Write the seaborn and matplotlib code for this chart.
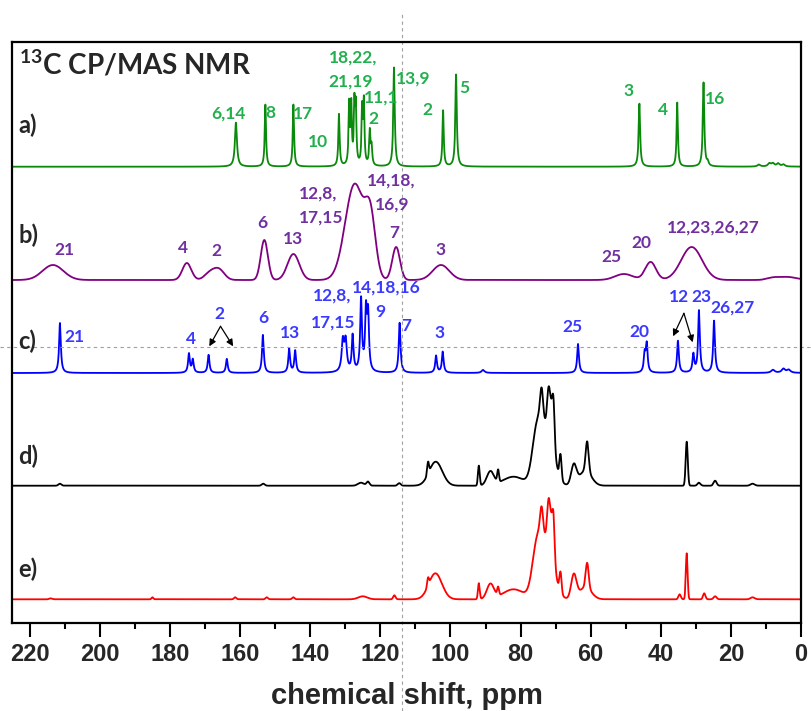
import numpy as np
import pandas as pd
import matplotlib
matplotlib.use("Agg")
import matplotlib.pyplot as plt
from matplotlib.ticker import MultipleLocator
import seaborn as sns

# ---------------- data ----------------
# each spectrum: peak positions (ppm), peak heights (relative), half widths (ppm)
a_pos = [161.2, 152.8, 144.8, 131.8, 128.9, 128.3, 127.4, 127.0, 125.2, 124.7, 123.0, 122.5,
         116.1, 102.1, 98.4, 46.1, 35.3, 27.8, 26.6, 12.0, 9.0, 8.0, 6.5, 5.0]
a_h = [44, 62, 62, 52, 60, 58, 58, 55, 55, 62, 34, 18,
       99, 56, 92, 63, 64, 84, 4, 2, 3, 3, 3, 2]
a_w = [0.35, 0.22, 0.22, 0.22, 0.2, 0.2, 0.2, 0.2, 0.2, 0.2, 0.22, 0.22,
       0.25, 0.22, 0.25, 0.25, 0.22, 0.25, 0.3, 0.5, 0.5, 0.5, 0.5, 0.5]

b_pos = [213.4, 175.2, 168.6, 166.0, 153.1, 144.8, 127.3, 122.8, 115.5, 102.7,
         50.5, 42.9, 31.2, 8.0, 3.8]
b_h = [15, 17, 7, 10, 40, 26, 96, 53, 33, 15,
       6, 18, 33, 2, 3]
b_w = [3.5, 1.5, 1.8, 1.8, 1.2, 2.0, 3.2, 1.7, 1.3, 2.8,
       3.0, 1.8, 3.5, 2.0, 3.0]

c_pos = [211.4, 174.6, 173.5, 169.0, 163.8, 153.5, 146.0, 144.3, 130.7, 129.9,
         127.9, 125.5, 124.1, 123.5, 114.5, 104.1, 102.2, 90.7, 63.6, 44.6,
         44.0, 35.1, 30.7, 29.1, 24.8, 8.0, 5.0, 3.5]
c_h = [50, 19, 13, 18, 14, 38, 24, 22, 30, 30,
       36, 72, 58, 55, 50, 17, 21, 3, 29, 18,
       28, 32, 18, 62, 52, 3, 4, 3]
c_w = [0.3, 0.3, 0.3, 0.3, 0.3, 0.3, 0.3, 0.3, 0.4, 0.4,
       0.3, 0.3, 0.3, 0.3, 0.3, 0.3, 0.3, 0.5, 0.3, 0.3,
       0.3, 0.3, 0.3, 0.3, 0.3, 0.6, 0.6, 0.6]

d_pos = [211.4, 153.4, 125.5, 123.5, 114.6, 106.4, 104.2, 91.9, 88.6, 86.4,
         82.0, 75.3, 74.0, 72.3, 72.0, 71.2, 70.6, 68.6, 64.8, 61.5,
         61.0, 32.6, 29.1, 24.5, 13.8]
d_h = [2, 2, 3, 4, 2.5, 12, 24, 20, 14, 12,
       9, 50, 30, 55, 38, 25, 42, 24, 20, 15,
       30, 44, 3, 5, 2]
d_w = [0.5, 0.5, 1.0, 0.5, 0.5, 0.3, 2.2, 0.3, 1.2, 0.3,
       3.5, 1.6, 0.5, 2.2, 0.5, 0.5, 0.4, 0.35, 0.9, 2.0,
       0.5, 0.35, 0.5, 0.5, 0.7]

e_pos = [214.0, 185.0, 161.4, 152.4, 144.8, 125.0, 116.0, 106.4, 104.3, 91.9,
         88.6, 86.4, 82.0, 75.3, 74.0, 72.3, 72.0, 71.2, 70.6, 68.6,
         64.8, 61.5, 61.0, 34.6, 32.6, 27.6, 24.5, 13.8]
e_h = [1, 2, 2, 2, 2, 3, 4, 8, 26, 16,
       15, 8, 10, 48, 26, 55, 40, 25, 40, 20,
       24, 12, 25, 5, 46, 6, 3, 2]
e_w = [0.5, 0.3, 0.4, 0.4, 0.4, 1.5, 0.4, 0.3, 2.2, 0.3,
       1.2, 0.3, 3.5, 1.6, 0.5, 2.2, 0.5, 0.5, 0.4, 0.35,
       0.9, 2.0, 0.5, 0.4, 0.3, 0.4, 0.5, 0.7]

traces = ["a)", "b)", "c)", "d)", "e)"]
peaks = {
    "a)": (a_pos, a_h, a_w),
    "b)": (b_pos, b_h, b_w),
    "c)": (c_pos, c_h, c_w),
    "d)": (d_pos, d_h, d_w),
    "e)": (e_pos, e_h, e_w),
}

# peak assignment labels: (text, ppm, height above plot bottom)
a_labels = [("6,14", 163.2, 510), ("8", 151.5, 510), ("17", 142.1, 509), ("10", 137.8, 481),
            ("18,22,", 127.8, 566), ("21,19", 128.4, 542), ("11,1", 119.9, 526), ("2", 122.1, 504),
            ("13,9", 110.6, 545), ("2", 106.7, 513), ("5", 96.2, 535), ("3", 49.1, 532),
            ("4", 39.4, 513), ("16", 24.6, 524)]
b_labels = [("21", 210.0, 373), ("4", 176.3, 375), ("2", 166.9, 372), ("6", 153.8, 400),
            ("13", 145.0, 384), ("12,8,", 137.8, 430), ("17,15", 137.0, 406), ("14,18,", 117.0, 443),
            ("16,9", 116.6, 419), ("7", 116.1, 390), ("3", 102.7, 373), ("25", 54.0, 366),
            ("20", 45.4, 380), ("12,23,26,27", 25.1, 396)]
c_labels = [("21", 207.2, 286), ("4", 174.1, 284), ("2", 165.8, 309), ("6", 153.5, 305),
            ("13", 145.8, 290), ("12,8,", 133.8, 328), ("17,15", 133.6, 301), ("14,18,16", 118.2, 336),
            ("9", 120.1, 311), ("7", 112.5, 297), ("3", 103.2, 290), ("25", 65.1, 296),
            ("20", 46.0, 291), ("12", 34.8, 326), ("23", 28.3, 326), ("26,27", 19.6, 316)]
# arrows (from, to) in (ppm, height)
c_arrows = [((165.6, 297), (168.8, 277)), ((165.6, 297), (162.0, 277)),
            ((33.4, 310), (36.5, 287)), ((33.4, 310), (30.9, 281))]

title_sup = "13"
title = "C CP/MAS NMR"
xlabel = "chemical shift, ppm"
xticks = [220, 200, 180, 160, 140, 120, 100, 80, 60, 40, 20, 0]

# ---------------- style ----------------
offsets = {"a)": 456.6, "b)": 343.3, "c)": 250.3, "d)": 137.6, "e)": 24.0}
shape = {"a)": "L", "b)": "G", "c)": "L", "d)": "G", "e)": "G"}
line_colors = {"a)": "#0a8a0a", "b)": "#800080", "c)": "#0000ff", "d)": "#000000", "e)": "#ff0000"}
label_y = {"a)": 498, "b)": 388, "c)": 282, "d)": 167, "e)": 54}
green_txt, purple_txt, blue_txt = "#22b04e", "#7030a0", "#3a3aff"

sns.set_style("ticks")
plt.rcParams["font.family"] = ["Liberation Sans", "DejaVu Sans"]
plt.rcParams["mathtext.fontset"] = "custom"
plt.rcParams["mathtext.rm"] = "Lato:bold"
plt.rcParams["mathtext.bf"] = "Lato:bold"
plt.rcParams["mathtext.default"] = "bf"
LBL = ["Lato", "DejaVu Sans"]

ppm = np.linspace(0, 225, 9001)


def spectrum(pos, h, w, kind):
    y = np.zeros_like(ppm)
    for p, hh, ww in zip(pos, h, w):
        if kind == "L":
            y += hh / (1 + ((ppm - p) / ww) ** 2)
        else:
            y += hh * np.exp(-np.log(2) * ((ppm - p) / ww) ** 2)
    return y


frames = []
for t in traces:
    pos, h, w = peaks[t]
    sig = spectrum(pos, h, w, shape[t]) + offsets[t]
    frames.append(pd.DataFrame({"ppm": ppm, "signal": sig, "trace": t}))
df = pd.concat(frames, ignore_index=True)

fig = plt.figure(figsize=(8.11, 7.11), dpi=100)
ax = fig.add_axes([12.3 / 811, 87.7 / 711, 788.7 / 811, 581.6 / 711])

sns.lineplot(data=df, x="ppm", y="signal", hue="trace", palette=line_colors,
             estimator=None, sort=False, legend=False, linewidth=1.3, ax=ax)

ax.set_xlim(225, 0)
ax.set_ylim(0, 581.6)
ax.set_yticks([])
ax.set_ylabel("")
ax.set_xticks(xticks)
ax.set_xticklabels([str(v) for v in xticks], fontweight="bold", fontsize=17)
ax.xaxis.set_minor_locator(MultipleLocator(10))
ax.tick_params(axis="x", which="major", length=10, width=1.5, direction="out", pad=4, color="black")
ax.tick_params(axis="x", which="minor", length=4, width=1.5, direction="out", color="black")
for s in ax.spines.values():
    s.set_linewidth(1.6)
    s.set_color("black")
ax.set_xlabel(xlabel, fontsize=21, fontweight="bold", labelpad=12)

# crosshair guide lines
ax.axvline(113.8, ymin=-0.151, ymax=1.05, clip_on=False, color="#a0a0a0", lw=0.8, ls=(0, (3, 3)))
ax.axhline(276.0, xmin=-0.016, xmax=1.013, clip_on=False, color="#a0a0a0", lw=0.8, ls=(0, (3, 3)))

# title and trace letters
ax.text(223.0, 549.3, "$^{" + title_sup + "}$" + title, fontsize=20, fontweight="bold",
        family=LBL, ha="left", va="baseline")
for t in traces:
    ax.text(223.2, label_y[t], t, fontsize=17, fontweight="bold", family=LBL, ha="left", va="center")

for lbls, col in ((a_labels, green_txt), (b_labels, purple_txt), (c_labels, blue_txt)):
    for txt, x, y in lbls:
        ax.text(x, y, txt, color=col, fontsize=12.5, fontweight="bold", family=LBL,
                ha="center", va="center")

for (x0, y0), (x1, y1) in c_arrows:
    ax.annotate("", xy=(x1, y1), xytext=(x0, y0),
                arrowprops=dict(arrowstyle="-|>", color="black", lw=0.9, mutation_scale=10,
                                shrinkA=0, shrinkB=0))

fig.savefig("out.png", dpi=100)
